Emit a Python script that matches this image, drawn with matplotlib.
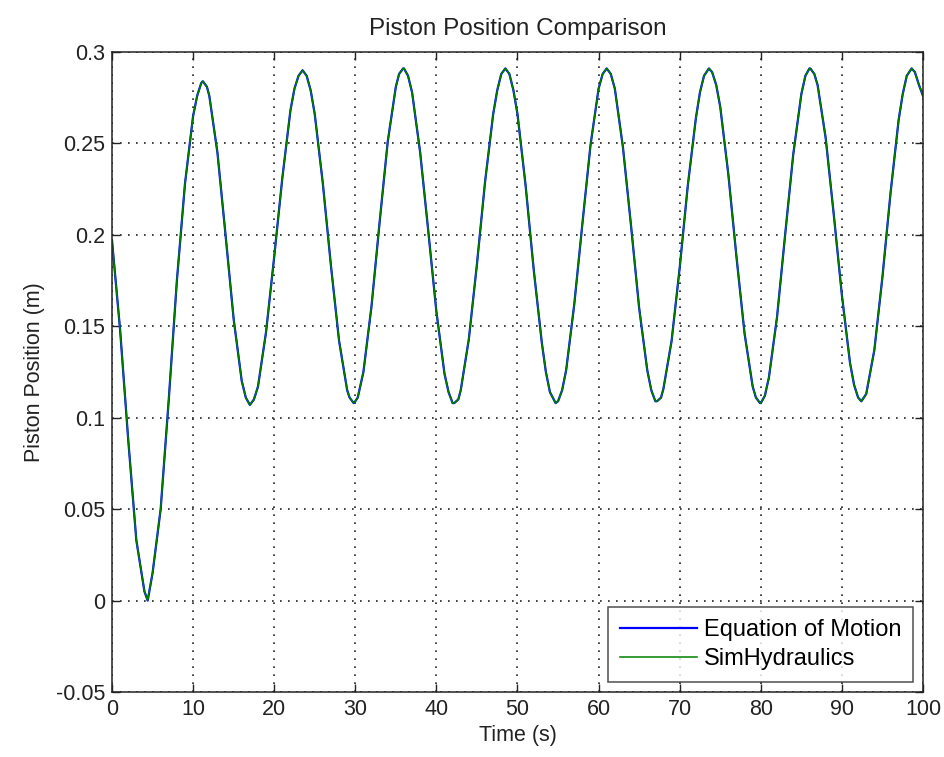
import matplotlib
matplotlib.use("Agg")
import matplotlib.pyplot as plt

plt.rcParams["font.family"] = ["Liberation Sans", "DejaVu Sans"]

# time samples (s), one row per half cycle, extra samples near the extrema
time_s = [0, 1, 2, 3, 4, 4.4, 5, 6, 7, 8, 9, 10, 10.5, 11, 11.2, 11.7,
          12, 13, 14, 15, 16, 16.5, 17, 17.5,
          18, 19, 20, 21, 22, 22.5, 23, 23.5, 24, 24.5,
          25, 26, 27, 28, 29, 29.3, 29.8, 30, 30.3,
          31, 32, 33, 34, 35, 35.4, 35.9, 36, 36.5,
          37, 38, 39, 40, 41, 41.5, 42, 42.2, 42.7,
          43, 44, 45, 46, 47, 47.5, 48, 48.5, 49, 49.5,
          50, 51, 52, 53, 53.5, 54, 54.7, 55, 55.5,
          56, 57, 58, 59, 60, 60.5, 61, 61.5,
          62, 63, 64, 65, 66, 66.5, 67, 67.2, 67.7,
          68, 69, 70, 71, 72, 72.5, 73, 73.6, 74, 74.5,
          75, 76, 77, 78, 79, 79.4, 79.9, 80, 80.5,
          81, 82, 83, 84, 85, 85.5, 86, 86.1, 86.6,
          87, 88, 89, 90, 91, 91.5, 92, 92.4,
          93, 94, 95, 96, 97, 97.5, 98, 98.6,
          99, 99.5, 100]

# Equation of Motion piston position (m)
eom_pos = [0.197, 0.148, 0.088, 0.033, 0.005, 0.000, 0.015, 0.050, 0.110, 0.175, 0.228, 0.265, 0.276, 0.283, 0.284, 0.281,
           0.276, 0.245, 0.200, 0.154, 0.120, 0.111, 0.107, 0.110,
           0.117, 0.147, 0.188, 0.231, 0.268, 0.280, 0.287, 0.290, 0.287, 0.279,
           0.266, 0.228, 0.183, 0.142, 0.115, 0.111, 0.108, 0.109, 0.111,
           0.125, 0.161, 0.207, 0.251, 0.281, 0.288, 0.291, 0.291, 0.287,
           0.278, 0.245, 0.202, 0.158, 0.124, 0.114, 0.108, 0.108, 0.110,
           0.115, 0.143, 0.184, 0.229, 0.266, 0.279, 0.288, 0.291, 0.288, 0.279,
           0.266, 0.227, 0.181, 0.141, 0.125, 0.114, 0.108, 0.109, 0.115,
           0.126, 0.162, 0.206, 0.249, 0.280, 0.288, 0.291, 0.288,
           0.280, 0.248, 0.205, 0.160, 0.126, 0.115, 0.109, 0.109, 0.111,
           0.116, 0.142, 0.182, 0.227, 0.264, 0.278, 0.287, 0.291, 0.289, 0.282,
           0.270, 0.233, 0.188, 0.146, 0.117, 0.111, 0.108, 0.108, 0.112,
           0.122, 0.155, 0.200, 0.244, 0.277, 0.287, 0.291, 0.291, 0.288,
           0.282, 0.253, 0.211, 0.167, 0.130, 0.118, 0.111, 0.109,
           0.113, 0.137, 0.177, 0.223, 0.263, 0.277, 0.287, 0.291,
           0.289, 0.282, 0.276]

# SimHydraulics result lies on top of the analytic curve
sim_pos = list(eom_pos)

x_ticks = [0, 10, 20, 30, 40, 50, 60, 70, 80, 90, 100]
y_ticks = [-0.05, 0, 0.05, 0.1, 0.15, 0.2, 0.25, 0.3]
y_labels = ["-0.05", "0", "0.05", "0.1", "0.15", "0.2", "0.25", "0.3"]

W, H = 945, 757
fig = plt.figure(figsize=(W / 100, H / 100), dpi=100)
ax = fig.add_axes([112 / W, 1 - 692 / H, (923 - 112) / W, (692 - 52) / H])

ax.plot(time_s, eom_pos, color="#0000ff", linewidth=1.6, label="Equation of Motion")
ax.plot(time_s, sim_pos, color="#007f00", linewidth=1.1, label="SimHydraulics")

ax.set_xlim(0, 100)
ax.set_ylim(-0.05, 0.3)
ax.set_xticks(x_ticks)
ax.set_yticks(y_ticks)
ax.set_yticklabels(y_labels)
ax.tick_params(direction="in", length=6, width=1, top=True, right=True,
               labelsize=15.5, colors="#222222", pad=5)
for s in ax.spines.values():
    s.set_linewidth(1.1)
    s.set_color("#222222")
ax.grid(True, color="#222222", linestyle=(0, (1, 3.8)), linewidth=1.2)

ax.set_title("Piston Position Comparison", fontsize=17.5, pad=12, color="#222222")
ax.set_xlabel("Time (s)", fontsize=15.5, color="#222222", labelpad=4)
ax.set_ylabel("Piston Position (m)", fontsize=15.5, color="#222222", labelpad=8)

leg = ax.legend(loc="lower right", fontsize=17, frameon=True, fancybox=False,
                handlelength=3.25, handletextpad=0.3, borderaxespad=0.42,
                borderpad=0.5, labelspacing=0.3)
leg.get_frame().set_edgecolor("#222222")
leg.get_frame().set_linewidth(1.1)

fig.savefig("out.png", dpi=100)
